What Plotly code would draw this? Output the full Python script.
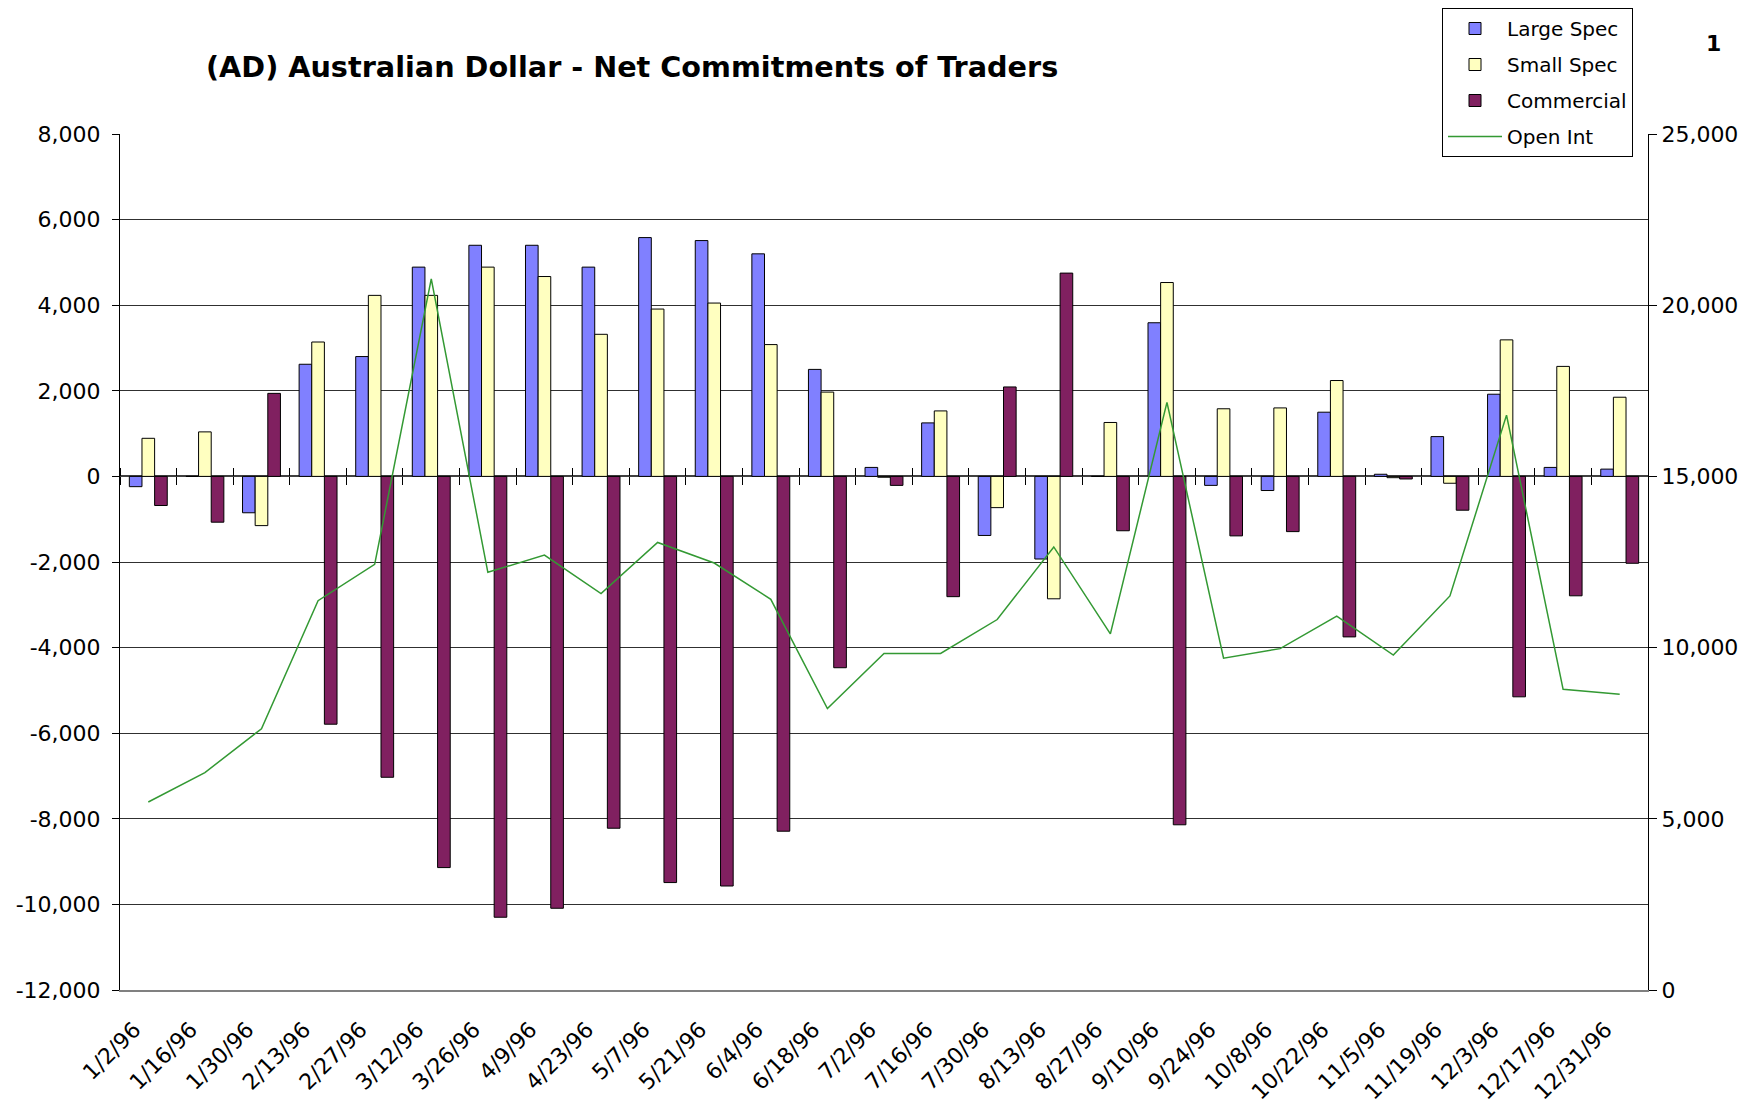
import plotly.graph_objects as go

dates = ["1/2/96", "1/16/96", "1/30/96", "2/13/96", "2/27/96", "3/12/96", "3/26/96",
         "4/9/96", "4/23/96", "5/7/96", "5/21/96", "6/4/96", "6/18/96", "7/2/96",
         "7/16/96", "7/30/96", "8/13/96", "8/27/96", "9/10/96", "9/24/96", "10/8/96",
         "10/22/96", "11/5/96", "11/19/96", "12/3/96", "12/17/96", "12/31/96"]

large_spec = [-240, 0, -850, 2620, 2800, 4890, 5400, 5400, 4890, 5580, 5510, 5200, 2500, 210,
              1250, -1380, -1930, 0, 3590, -210, -330, 1500, 50, 930, 1920, 210, 170]
small_spec = [890, 1040, -1150, 3140, 4230, 4230, 4890, 4670, 3320, 3910, 4050, 3080, 1970, -20,
              1530, -730, -2860, 1260, 4530, 1580, 1600, 2240, -30, -160, 3190, 2570, 1850]
commercial = [-680, -1070, 1940, -5790, -7030, -9140, -10300, -10090, -8220, -9490, -9570, -8290,
              -4470, -210, -2810, 2090, 4750, -1270, -8140, -1390, -1290, -3750, -60, -790,
              -5150, -2790, -2030]
open_int = [5490, 6350, 7630, 11370, 12430, 20770, 12200, 12700, 11580, 13070, 12470, 11410,
            8220, 9830, 9830, 10820, 12940, 10400, 17160, 9690, 9970, 10920, 9780, 11510,
            16790, 8780, 8640]

left_ticks = [8000, 6000, 4000, 2000, 0, -2000, -4000, -6000, -8000, -10000, -12000]
right_ticks = [0, 5000, 10000, 15000, 20000, 25000]

TITLE = "(AD) Australian Dollar - Net Commitments of Traders"
FONT = "DejaVu Sans, sans-serif"

W, H = 1764, 1110
OFF = 8  # page offset of the figure (default body margin)
L, R, T, B = 120 - OFF, W - (1648 - OFF), 134 - OFF, H - (990 - OFF)
PW, PH = W - L - R, H - T - B


def fmt(v):
    s = f"{abs(v):,}"
    return "-" + s if v < 0 else s


fig = go.Figure()
fig.add_trace(go.Bar(name="Large Spec", x=dates, y=large_spec,
                     marker=dict(color="#8080FF", line=dict(color="#000000", width=1)),
                     legendgroup="a"))
fig.add_trace(go.Bar(name="Small Spec", x=dates, y=small_spec,
                     marker=dict(color="#FFFFC0", line=dict(color="#000000", width=1)),
                     legendgroup="b"))
fig.add_trace(go.Bar(name="Commercial", x=dates, y=commercial,
                     marker=dict(color="#802060", line=dict(color="#000000", width=1)),
                     legendgroup="c"))
fig.add_trace(go.Scatter(name="Open Int", x=dates, y=open_int, mode="lines",
                         line=dict(color="#339933", width=1.5), yaxis="y2",
                         legendgroup="d"))
# helper traces for the boundary tick marks crossing the zero line
fig.add_trace(go.Scatter(x=dates, y=[None] * len(dates), xaxis="x2", showlegend=False,
                         hoverinfo="skip"))
fig.add_trace(go.Scatter(x=dates, y=[None] * len(dates), xaxis="x3", showlegend=False,
                         hoverinfo="skip"))

fig.update_layout(
    width=W, height=H,
    paper_bgcolor="white", plot_bgcolor="white",
    margin=dict(l=L, r=R, t=T, b=B, autoexpand=False),
    font=dict(family=FONT, color="#000000", size=20),
    barmode="group", bargap=0.33, bargroupgap=0,
    title=dict(text="<b>" + TITLE + "</b>", x=(206 - OFF) / W, xanchor="left",
               y=1 - (67 - OFF) / H, yanchor="middle",
               font=dict(family=FONT, size=28.7, color="#000000")),
    xaxis=dict(type="category", categoryorder="array", categoryarray=dates,
               tickangle=-45, tickfont=dict(size=22), ticks="", showgrid=False,
               showline=True, linecolor="#808080", linewidth=2, mirror=False,
               automargin=False, ticklabelshift=-14, ticklabelstandoff=16),
    xaxis2=dict(type="category", matches="x", overlaying="x", anchor="free",
                position=0.6, tickson="boundaries", ticks="outside", ticklen=8,
                tickcolor="#000000", showticklabels=False, showgrid=False,
                showline=False, zeroline=False, automargin=False),
    xaxis3=dict(type="category", matches="x", overlaying="x", anchor="free",
                position=0.6, side="top", tickson="boundaries", ticks="outside",
                ticklen=8, tickcolor="#000000", showticklabels=False, showgrid=False,
                showline=False, zeroline=False, automargin=False),
    yaxis=dict(range=[-12000, 8000], tickvals=left_ticks,
               ticktext=[fmt(v) for v in left_ticks], tickfont=dict(size=22),
               showgrid=True, gridcolor="#303030", gridwidth=1,
               zeroline=True, zerolinecolor="#404040", zerolinewidth=2,
               showline=True, linecolor="#000000", linewidth=1,
               ticks="outside", ticklen=7, tickcolor="#000000", automargin=False,
               ticklabelstandoff=7),
    yaxis2=dict(range=[0, 25000], tickvals=right_ticks,
                ticktext=[fmt(v) for v in right_ticks], tickfont=dict(size=22),
                overlaying="y", side="right", showgrid=False, zeroline=False,
                showline=True, linecolor="#000000", linewidth=1,
                ticks="outside", ticklen=8, tickcolor="#000000", automargin=False),
    legend=dict(xref="container", yref="container", x=(1442 - OFF) / W, y=1.0,
                xanchor="left", yanchor="top",
                bordercolor="#000000", borderwidth=1, bgcolor="white",
                font=dict(size=20), tracegroupgap=7, itemwidth=54,
                traceorder="grouped"),
    annotations=[dict(text="<b>1</b>", x=(1713 - OFF - L) / PW, y=(H - B - (43 - OFF)) / PH,
                      xref="paper", yref="paper", xanchor="center", yanchor="middle",
                      showarrow=False, font=dict(size=22, color="#000000"))],
)

fig.write_html("out.html")
